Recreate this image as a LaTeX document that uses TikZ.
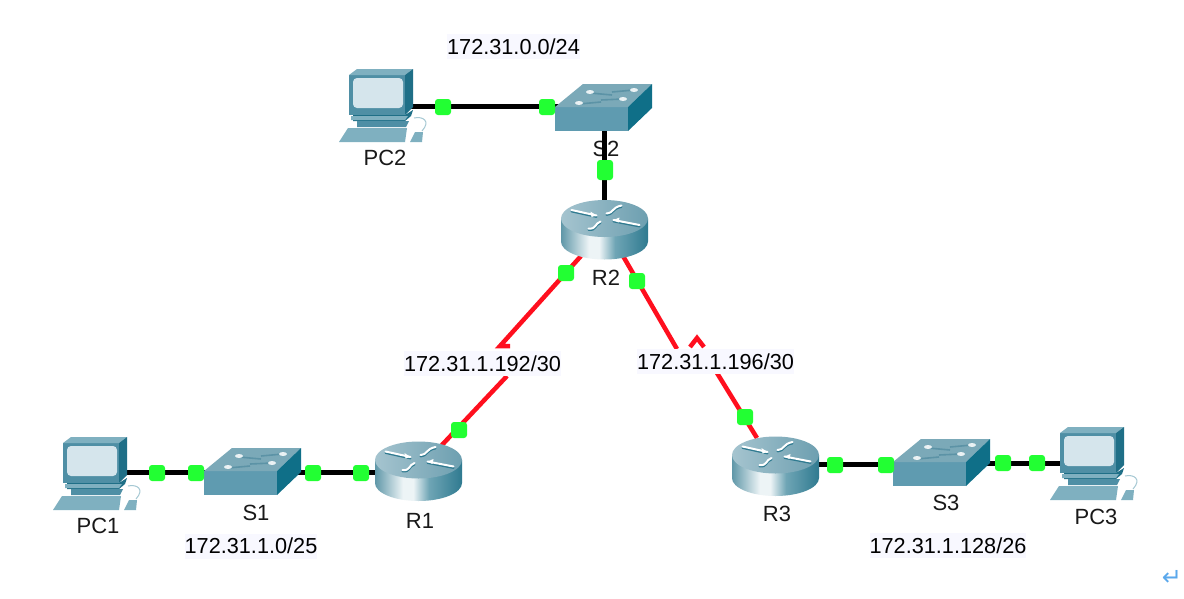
\documentclass[tikz,border=0pt]{standalone}
\usepackage{fontspec}
\setmainfont{Liberation Sans}
\newfontfamily\symbfont{DejaVu Sans}
\definecolor{linkgreen}{HTML}{22FF33}
\definecolor{serialred}{HTML}{FF0F1E}
\definecolor{labelbg}{HTML}{F8F8FF}
\definecolor{swfront}{HTML}{5F9BB0}
\definecolor{swtop}{HTML}{7BA9B8}
\definecolor{swbar}{HTML}{5C93A6}
\definecolor{swside}{HTML}{0F6F88}
\definecolor{pcdark}{HTML}{1F6F87}
\definecolor{pcmid}{HTML}{4F8FA5}
\definecolor{pclight}{HTML}{7FB0C0}
\definecolor{pcscreen}{HTML}{D5E5EC}
\definecolor{rtA}{HTML}{5F97A8}
\definecolor{rtB}{HTML}{EDF4F6}
\definecolor{rtM}{HTML}{6FA5B5}
\definecolor{rtC}{HTML}{2F7A90}
\definecolor{rtD}{HTML}{A5C4CF}
\definecolor{rtE}{HTML}{6D9FB0}
\definecolor{retblue}{HTML}{5AA8EC}
\pgfdeclarehorizontalshading{routerside}{100bp}{color(0bp)=(rtA); color(25bp)=(rtA); color(41bp)=(rtB); color(47bp)=(rtB); color(56bp)=(rtM); color(75bp)=(rtC); color(100bp)=(rtC)}
\pgfdeclarehorizontalshading{routertop}{100bp}{color(0bp)=(rtD); color(25bp)=(rtD); color(75bp)=(rtE); color(100bp)=(rtE)}
\tikzset{
  x=1pt,y=-1pt,
  ethernet/.style={line width=5pt,black},
  serial/.style={line width=4.5pt,serialred,line join=miter},
  portdot/.style={fill=linkgreen,rounded corners=3pt,minimum width=16pt,minimum height=16pt,inner sep=0pt},
  portdottall/.style={portdot,minimum height=20pt},
  devlabel/.style={font=\fontsize{22}{24}\selectfont,text=black!90,inner sep=0pt},
  netlabel/.style={font=\fontsize{21.7}{24}\selectfont,text=black,fill=labelbg,inner sep=0pt,minimum height=25pt},
  arrowmark/.style={white,line width=2pt,line cap=round},
  arrowshade/.style={rtC,line width=2pt,line cap=round},
  pcicon/.pic={
    \fill[pcmid] (10,6) rectangle (66,46);
    \fill[pclight] (10,6) -- (18,0) -- (74,0) -- (66,6) -- cycle;
    \fill[pcdark] (66,6) -- (74,0) -- (74,38) -- (66,46) -- cycle;
    \fill[pcscreen,rounded corners=4pt] (14,9) rectangle (64,39);
    \fill[pcdark] (14,46) -- (66,46) -- (74,41) -- (72,47) -- (66,52) -- (14,52) -- cycle;
    \fill[pclight] (12,47) -- (69,47) -- (66,51) -- (12,51) -- cycle;
    \fill[pcmid] (18,52) -- (70,52) -- (67,58) -- (18,58) -- cycle;
    \fill[pclight] (0,73) -- (9,59) -- (68,59) -- (66,73) -- cycle;
    \fill[pclight] (71,73) -- (76,63) -- (84,63) -- (83,73) -- cycle;
    \draw[pclight!70,line width=1pt] (75,49) .. controls (84,47) and (92,52) .. (83,62);
  },
  switchicon/.pic={
    \fill[swfront] (0,0) rectangle (73,24);
    \fill[swtop] (0,0) -- (28,-23) -- (97,-23) -- (73,0) -- cycle;
    \fill[swside] (73,0) -- (97,-23) -- (97,1) -- (73,24) -- cycle;
    \draw[swbar,line width=1.6pt] (35,-14) -- (57,-12) (79,-17) -- (57,-15) (24,-3) -- (46,-5) (68,-8) -- (46,-7);
    \foreach \a/\b in {35/-15,79/-17,24/-4,68/-8}{
      \fill[white!85!swtop] (\a,\b) ellipse[x radius=4,y radius=2];
    }
  },
  routericon/.pic={
    \shade[shading=routerside] (-43.5,0) -- (-43.5,23) arc[start angle=180,end angle=0,x radius=43.5,y radius=18] -- (43.5,0) -- cycle;
    \shade[shading=routertop] (0,0) ellipse[x radius=43.5,y radius=18.5];
    \begin{scope}[shift={(0,1.4)}]
      \draw[arrowshade] (-33,-8.5) -- (-8,-3);
      \draw[arrowshade] (9,1.5) -- (35,6.5);
      \draw[arrowshade] (2,-5) .. controls (10,-6) and (7,-11) .. (17,-13);
      \draw[arrowshade] (-16,10) .. controls (-8,11) and (-10,5) .. (-4,3);
    \end{scope}
    \draw[arrowmark] (-33,-8.5) -- (-8,-3);
    \draw[arrowmark] (9,1.5) -- (35,6.5);
    \draw[arrowmark] (2,-5) .. controls (10,-6) and (7,-11) .. (17,-13);
    \draw[arrowmark] (-16,10) .. controls (-8,11) and (-10,5) .. (-4,3);
    \fill[white] (-8,-3) -- (-14,-7) -- (-13,-1.5) -- cycle;
    \fill[white] (9,1.5) -- (15,-1) -- (14,4) -- cycle;
  }
}
\begin{document}
\begin{tikzpicture}
\useasboundingbox (0,0) rectangle (1184,598);
\fill[white] (0,0) rectangle (1184,598);
% device labels that sit under the connectors
\node[devlabel] (lS2) at (606,149) {S2};
% ports
\coordinate (pc2p) at (410,106.5);
\coordinate (s2w) at (560,106.5);
\coordinate (s2s) at (604.5,128);
\coordinate (r2n) at (604.5,205);
\coordinate (pc1p) at (124,472.5);
\coordinate (s1w) at (210,472.5);
\coordinate (s1e) at (295,472.5);
\coordinate (r1w) at (380,472.5);
\coordinate (r3e) at (815,464.5);
\coordinate (s3w) at (900,464.5);
\coordinate (s3e) at (985,463);
\coordinate (pc3p) at (1064,463);
\coordinate (r2sw) at (581,256);
\coordinate (r2se) at (623,256);
\coordinate (r1ne) at (441,446);
\coordinate (r3nw) at (757,438);
\coordinate (kaA) at (500,346);
\coordinate (kaB) at (510,346);
\coordinate (kaC) at (507,376);
\coordinate (kbA) at (677,349);
\coordinate (kbB) at (690,347);
\coordinate (kbC) at (697,338);
\coordinate (kbD) at (704,347);
\coordinate (kbE) at (717,373);
% connectors
\draw[ethernet] (pc2p) -- (s2w);
\draw[ethernet] (s2s) -- (r2n);
\draw[ethernet] (pc1p) -- (s1w);
\draw[ethernet] (s1e) -- (r1w);
\draw[ethernet] (r3e) -- (s3w);
\draw[ethernet] (s3e) -- (pc3p);
\draw[serial] (r2sw) -- (kaA) -- (kaB);
\draw[serial] (kaC) -- (r1ne);
\draw[serial] (r2se) -- (kbA);
\draw[serial] (kbB) -- (kbC) -- (kbD);
\draw[serial] (kbE) -- (r3nw);
% devices
\pic (PC2) at (339,69) {pcicon};
\pic (PC1) at (53,437) {pcicon};
\pic (PC3) at (1050,427) {pcicon};
\pic (S2) at (555,107) {switchicon};
\pic (S1) at (204,471) {switchicon};
\pic (S3) at (893,462) {switchicon};
\pic (R2) at (604.5,218.5) {routericon};
\pic (R1) at (418.5,460) {routericon};
\pic (R3) at (775.5,455) {routericon};
% link lights
\node[portdot] (d1) at (443,107) {};
\node[portdot] (d2) at (547,107) {};
\node[portdottall] (d3) at (605,170) {};
\node[portdot] (d4) at (566,273) {};
\node[portdot] (d5) at (637,281) {};
\node[portdot] (d6) at (459,430) {};
\node[portdot] (d7) at (745,417) {};
\node[portdot] (d8) at (157,473) {};
\node[portdot] (d9) at (196,473) {};
\node[portdot] (d10) at (313,473) {};
\node[portdot] (d11) at (361,473) {};
\node[portdot] (d12) at (835,465) {};
\node[portdot] (d13) at (886,465) {};
\node[portdot] (d14) at (1003,463) {};
\node[portdot] (d15) at (1037,463) {};
% labels
\node[devlabel] (lPC2) at (385,158) {PC2};
\node[devlabel] (lR2) at (606,278) {R2};
\node[devlabel] (lPC1) at (98,526) {PC1};
\node[devlabel] (lS1) at (256,513) {S1};
\node[devlabel] (lR1) at (420,521) {R1};
\node[devlabel] (lR3) at (777,514) {R3};
\node[devlabel] (lS3) at (946,503) {S3};
\node[devlabel] (lPC3) at (1096,517) {PC3};
\node[netlabel] (n1) at (513.5,46.5) {172.31.0.0/24};
\node[netlabel] (n2) at (251,546) {172.31.1.0/25};
\node[netlabel] (n3) at (482.5,363.5) {172.31.1.192/30};
\node[netlabel] (n4) at (715.5,361.5) {172.31.1.196/30};
\node[netlabel] (n5) at (948,545.5) {172.31.1.128/26};
\node[font=\symbfont\fontsize{24}{26}\selectfont,text=retblue,inner sep=0pt] (ret) at (1172,578) {↵};
\end{tikzpicture}
\end{document}
